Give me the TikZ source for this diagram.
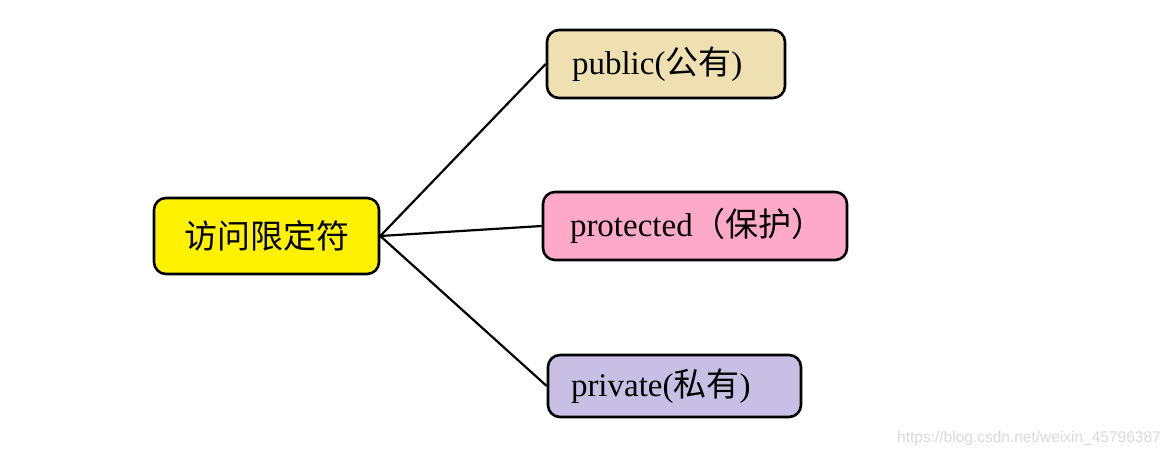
\documentclass[tikz,border=0pt]{standalone}
\usepackage{fontspec}
\setmainfont{Liberation Serif}
\newfontfamily\cjk{Noto Sans CJK SC}
\newfontfamily\wmfont{Liberation Sans}
\definecolor{rootfill}{HTML}{FFF200}
\definecolor{pubfill}{HTML}{EEE0B0}
\definecolor{protfill}{HTML}{FFA9C8}
\definecolor{privfill}{HTML}{C8C0E4}
\begin{document}
\begin{tikzpicture}[x=1pt,y=-1pt,
  box/.style={draw=black, line width=2.6pt, rounded corners=12pt, inner ysep=0pt,
    font=\fontsize{33}{38}\selectfont},
  leftbox/.style={box, align=flush left},
  conn/.style={draw=black, line width=2.2pt}]
\useasboundingbox (0,0) rectangle (1175,457);
\node[box, fill=rootfill, inner xsep=0pt, minimum width=225pt, minimum height=76pt] (root) at (266.5,236) {\cjk 访问限定符};
\node[leftbox, fill=pubfill, inner xsep=25pt, text width=188pt, minimum height=68pt] (pub) at (666,64) {public(\cjk 公有\rmfamily)};
\node[leftbox, fill=protfill, inner xsep=27pt, text width=250pt, minimum height=68pt] (prot) at (695,226) {protected\cjk （保护）};
\node[leftbox, fill=privfill, inner xsep=23pt, text width=207pt, minimum height=62pt] (priv) at (674.5,386) {private(\cjk 私有\rmfamily)};
\draw[conn] (root.east) -- (pub.west);
\draw[conn] (root.east) -- (prot.west);
\draw[conn] (root.east) -- (priv.west);
\node[text=black!15, font=\wmfont\fontsize{15.5}{18}\selectfont] (wm) at (1029,438) {https://blog.csdn.net/weixin\_45796387};
\end{tikzpicture}
\end{document}
